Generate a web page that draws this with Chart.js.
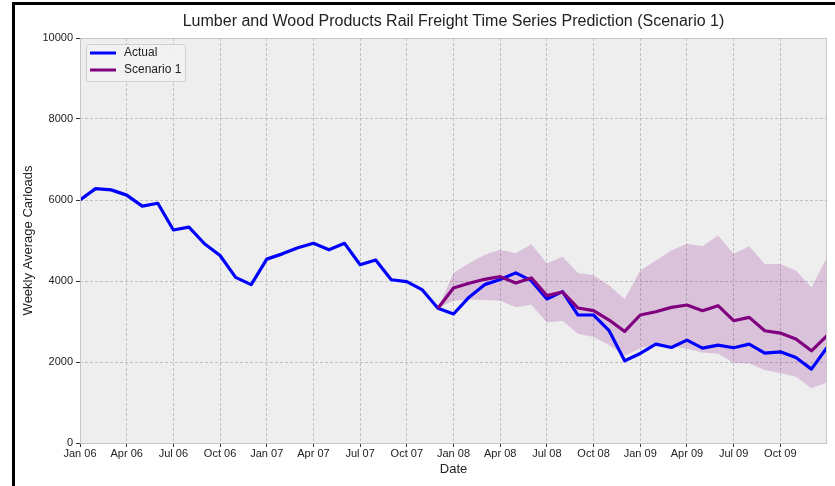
<!DOCTYPE html>
<html>
<head>
<meta charset="utf-8">
<script src="https://cdn.jsdelivr.net/npm/chart.js@4/dist/chart.umd.min.js"></script>
<style>
  html, body { margin: 0; padding: 0; background: #fff; }
  #c { display: block; }
</style>
</head>
<body>
<canvas id="c" width="835" height="486"></canvas>
<script>
// monthly values, Jan 06 .. Jan 10 (index 0..48)
const tickLabels = ["Jan 06", "Apr 06", "Jul 06", "Oct 06", "Jan 07", "Apr 07", "Jul 07", "Oct 07",
  "Jan 08", "Apr 08", "Jul 08", "Oct 08", "Jan 09", "Apr 09", "Jul 09", "Oct 09"];

const actual = [6000, 6280, 6250, 6120, 5850, 5920, 5260, 5330, 4920, 4630, 4090, 3910,
  4540, 4670, 4820, 4930, 4770, 4930, 4400, 4520, 4030, 3985, 3780, 3325,
  3185, 3600, 3910, 4035, 4200, 4010, 3556, 3737, 3160, 3160, 2772, 2030,
  2211, 2442, 2359, 2541, 2343, 2417, 2351, 2442, 2219, 2252, 2112, 1824, 2359];

// prediction starts at month index 23 (Dec 07)
const predStart = 23;
const scenario1 = [3325, 3829, 3943, 4042, 4108, 3952, 4076, 3638, 3730, 3333, 3267, 3036, 2755,
  3160, 3242, 3349, 3407, 3267, 3390, 3020, 3102, 2772, 2714, 2566, 2277, 2648];
const upper = [3325, 4200, 4440, 4650, 4770, 4686, 4910, 4440, 4600, 4200, 4140, 3886, 3556,
  4257, 4505, 4752, 4917, 4860, 5123, 4670, 4860, 4422, 4422, 4257, 3844, 4587];
const lower = [3325, 3510, 3540, 3530, 3514, 3349, 3415, 2978, 3020, 2700, 2615, 2420, 2153,
  2340, 2440, 2390, 2330, 2235, 2205, 1975, 1963, 1800, 1720, 1635, 1350, 1493];

const FONT = '"Liberation Sans", Arial, sans-serif';
const pts = (arr, off) => arr.map((v, i) => ({ x: i + off, y: v }));

const frame = {
  id: 'frame',
  beforeDraw(chart) {
    const { ctx, chartArea: a } = chart;
    ctx.save();
    ctx.fillStyle = '#fff';
    ctx.fillRect(0, 0, chart.width, chart.height);
    ctx.fillStyle = '#000';
    ctx.fillRect(12, 2, chart.width - 12, 3);
    ctx.fillRect(12, 2, 3, chart.height - 2);
    ctx.fillStyle = '#eeeeee';
    ctx.fillRect(a.left, a.top, a.right - a.left, a.bottom - a.top);
    ctx.restore();
  },
  afterDraw(chart) {
    const { ctx, chartArea: a } = chart;
    ctx.save();
    ctx.strokeStyle = '#c6c6c6';
    ctx.lineWidth = 1;
    ctx.strokeRect(a.left + 0.5, a.top + 0.5, a.right - a.left - 1, a.bottom - a.top);

    // title
    ctx.fillStyle = '#222';
    ctx.font = '16px ' + FONT;
    ctx.textAlign = 'center';
    ctx.textBaseline = 'middle';
    ctx.fillText('Lumber and Wood Products Rail Freight Time Series Prediction (Scenario 1)',
      (a.left + a.right) / 2, 22);

    // legend
    const lx = a.left + 6, ly = a.top + 6;
    ctx.fillStyle = 'rgba(242,242,242,0.85)';
    ctx.strokeStyle = '#d0d0d0';
    ctx.beginPath();
    ctx.roundRect(lx + 0.5, ly + 0.5, 99, 37, 2);
    ctx.fill();
    ctx.stroke();
    const items = [['Actual', '#0000ff'], ['Scenario 1', '#800080']];
    ctx.font = '12px ' + FONT;
    ctx.textAlign = 'left';
    items.forEach(([t, c], i) => {
      const y = ly + 9 + i * 17;
      ctx.strokeStyle = c;
      ctx.lineWidth = 3;
      ctx.beginPath();
      ctx.moveTo(lx + 4, y);
      ctx.lineTo(lx + 30, y);
      ctx.stroke();
      ctx.fillStyle = '#222';
      ctx.fillText(t, lx + 38, y);
    });
    ctx.restore();
  }
};

new Chart(document.getElementById('c'), {
  type: 'line',
  data: {
    datasets: [
      { label: 'upper', data: pts(upper, predStart), fill: '+1', borderWidth: 0,
        backgroundColor: 'rgba(128,0,128,0.18)', pointRadius: 0, order: 3 },
      { label: 'lower', data: pts(lower, predStart), fill: false, borderWidth: 0,
        pointRadius: 0, order: 3 },
      { label: 'Actual', data: pts(actual, 0), borderColor: '#0000ff', borderWidth: 3.2,
        pointRadius: 0, fill: false, borderJoinStyle: 'round', order: 2 },
      { label: 'Scenario 1', data: pts(scenario1, predStart), borderColor: '#800080', borderWidth: 3.2,
        pointRadius: 0, fill: false, borderJoinStyle: 'round', order: 1 }
    ]
  },
  options: {
    responsive: false,
    animation: false,
    devicePixelRatio: 1,
    layout: { padding: { top: 38, left: 17, right: 8, bottom: 0 } },
    plugins: { legend: { display: false }, tooltip: { enabled: false }, title: { display: false } },
    scales: {
      x: {
        type: 'linear', min: 0, max: 48,
        afterBuildTicks: s => { s.ticks = s.ticks.filter(t => t.value < 48); },
        afterFit: s => { s.height = 43; },
        ticks: { stepSize: 3, autoSkip: false, maxRotation: 0, padding: 0,
          color: '#222', font: { family: FONT, size: 11 },
          callback: v => tickLabels[v / 3] },
        grid: { color: '#b4b4b4', lineWidth: 0.8, tickLength: 4, tickColor: '#333',
          tickWidth: 1, tickBorderDash: [] },
        border: { display: false, dash: [3, 2] },
        title: { display: true, text: 'Date', color: '#222', font: { family: FONT, size: 13 },
          padding: { top: 2, bottom: 9 } }
      },
      y: {
        min: 0, max: 10000,
        afterFit: s => { s.width = 63; },
        ticks: { stepSize: 2000, padding: 3, color: '#222', font: { family: FONT, size: 11 },
          callback: v => String(v) },
        grid: { color: '#b4b4b4', lineWidth: 0.8, tickLength: 4, tickColor: '#333',
          tickWidth: 1, tickBorderDash: [] },
        border: { display: false, dash: [3, 2] },
        title: { display: true, text: 'Weekly Average Carloads', color: '#222',
          font: { family: FONT, size: 13 }, padding: { top: 4, bottom: 4 } }
      }
    }
  },
  plugins: [frame]
});
</script>
</body>
</html>
